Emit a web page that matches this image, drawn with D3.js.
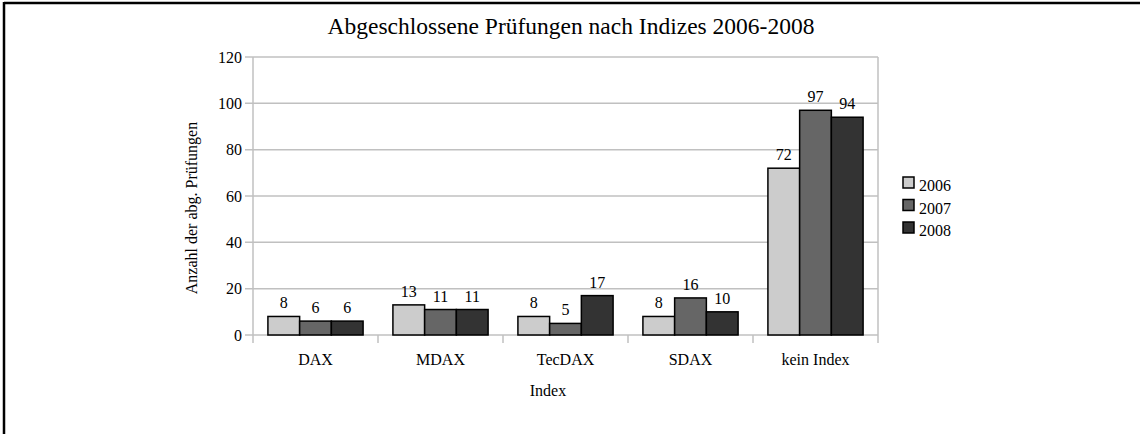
<!DOCTYPE html>
<html><head><meta charset="utf-8">
<script src="https://cdn.jsdelivr.net/npm/d3@7"></script>
<style>
html,body{margin:0;padding:0;background:#fff;}
svg{display:block;}
text{font-family:"Liberation Serif","Times New Roman",serif;}
</style></head>
<body>
<svg id="chart" width="1140" height="434"></svg>
<script>
const categories = ["DAX","MDAX","TecDAX","SDAX","kein Index"];
const years = ["2006","2007","2008"];
const values2006 = [8,13,8,8,72];
const values2007 = [6,11,5,16,97];
const values2008 = [6,11,17,10,94];
const yTicks = [0,20,40,60,80,100,120];
const colors = ["#cccccc","#666666","#333333"];
const title = "Abgeschlossene Prüfungen nach Indizes 2006-2008";
const yTitle = "Anzahl der abg. Prüfungen";
const xTitle = "Index";

(function(){
const FF = "Liberation Serif";
const FS = 16;
const series = [values2006, values2007, values2008];
const svg = d3.select("#chart").attr("font-family",FF);

svg.append("line").attr("x1",4).attr("x2",1140).attr("y1",3).attr("y2",3).attr("stroke","#000").attr("stroke-width",2.5);
svg.append("line").attr("x1",4).attr("x2",4).attr("y1",2).attr("y2",434).attr("stroke","#000").attr("stroke-width",2.5);

const pL=253, pR=878, pT=57, pB=335;
const x = d3.scaleBand().domain(categories).range([pL,pR]).paddingInner(0).paddingOuter(0);
const xInner = d3.scaleBand().domain(years).range([0,x.bandwidth()]).paddingOuter(0.47).paddingInner(0);
const y = d3.scaleLinear().domain([0,120]).range([pB,pT]);

const grid = "#c0c0c0";
svg.append("g").selectAll("line").data(yTicks).join("line")
  .attr("x1",pL-8).attr("x2",pR).attr("y1",d=>y(d)).attr("y2",d=>y(d))
  .attr("stroke",grid).attr("stroke-width",1.5);
svg.append("line").attr("x1",pL).attr("x2",pL).attr("y1",pT).attr("y2",pB+8).attr("stroke",grid).attr("stroke-width",1.5);
svg.append("line").attr("x1",pR).attr("x2",pR).attr("y1",pT).attr("y2",pB+8).attr("stroke",grid).attr("stroke-width",1.5);
svg.append("g").selectAll("line").data(categories.slice(1)).join("line")
  .attr("x1",d=>x(d)).attr("x2",d=>x(d)).attr("y1",pB).attr("y2",pB+8)
  .attr("stroke",grid).attr("stroke-width",1.5);

svg.append("g").selectAll("text").data(yTicks).join("text")
  .attr("font-family",FF)
  .attr("x",pL-11).attr("y",d=>y(d)+5.5).attr("text-anchor","end")
  .attr("font-size",FS).attr("fill","#000").text(d=>d);

years.forEach((yr,i)=>{
  const g = svg.append("g");
  g.selectAll("rect").data(categories).join("rect")
    .attr("x",c=>x(c)+xInner(yr)).attr("width",xInner.bandwidth())
    .attr("y",(c,j)=>y(series[i][j])).attr("height",(c,j)=>pB-y(series[i][j]))
    .attr("fill",colors[i]).attr("stroke","#000").attr("stroke-width",1.5);
  g.selectAll("text").data(categories).join("text")
    .attr("font-family",FF)
    .attr("x",c=>x(c)+xInner(yr)+xInner.bandwidth()/2)
    .attr("y",(c,j)=>y(series[i][j])-8)
    .attr("text-anchor","middle").attr("font-size",FS).attr("fill","#000")
    .text((c,j)=>series[i][j]);
});

svg.append("g").selectAll("text").data(categories).join("text")
  .attr("font-family",FF)
  .attr("x",c=>x(c)+x.bandwidth()/2).attr("y",365).attr("text-anchor","middle")
  .attr("font-size",FS).attr("fill","#000").text(c=>c);

svg.append("text").attr("font-family",FF).attr("x",571).attr("y",34).attr("text-anchor","middle").attr("font-size",23.5).attr("fill","#000").text(title);
svg.append("text").attr("font-family",FF).attr("x",548).attr("y",396).attr("text-anchor","middle").attr("font-size",FS).attr("fill","#000").text(xTitle);
svg.append("text").attr("font-family",FF).attr("transform","translate(197,208) rotate(-90)").attr("text-anchor","middle").attr("font-size",FS).attr("fill","#000").text(yTitle);

const lg = svg.append("g");
years.forEach((yr,i)=>{
  const cy = 183 + i*22.5;
  lg.append("rect").attr("x",903).attr("y",cy-6).attr("width",11).attr("height",11)
    .attr("fill",colors[i]).attr("stroke","#000").attr("stroke-width",1.5);
  lg.append("text").attr("font-family",FF).attr("x",919).attr("y",cy+8).attr("font-size",FS).attr("fill","#000").text(yr);
});
})();
</script>
</body></html>
